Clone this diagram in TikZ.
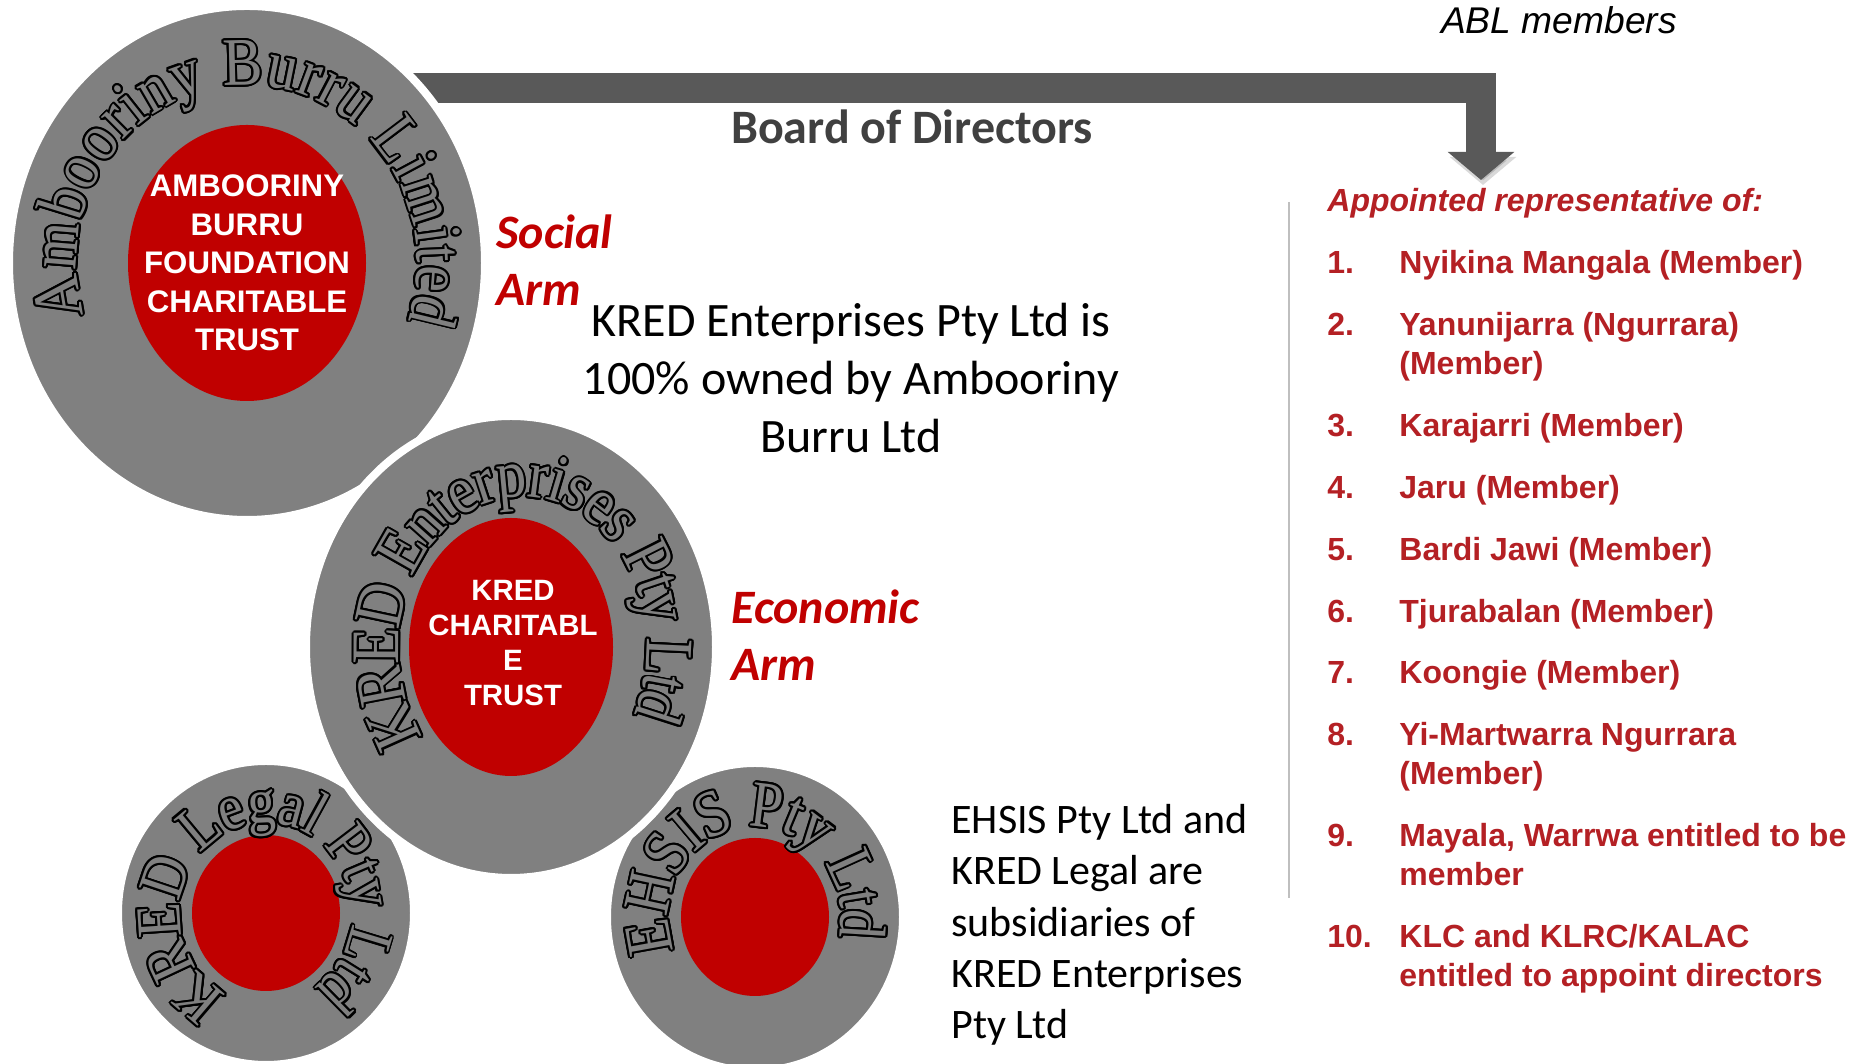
\documentclass[tikz,border=0pt]{standalone}
\usepackage{fontspec}
\setmainfont{Liberation Serif}
\newfontfamily\arialfont{Liberation Sans}
\newfontfamily\calfont{Carlito}
\newfontfamily\rimfont[FakeStretch=0.88]{Liberation Serif}
\usepackage{contour}
\usetikzlibrary{shapes.geometric,arrows.meta,positioning,decorations.text,backgrounds,calc}

\definecolor{ringgray}{HTML}{808080}
\definecolor{trustred}{HTML}{C00000}
\definecolor{listred}{RGB}{180,32,36}
\definecolor{bargray}{HTML}{595959}
\definecolor{boardgray}{HTML}{404040}
\contourlength{1pt}
\newcommand{\rimchar}[1]{\contour{black}{#1}}

\begin{document}
\begin{tikzpicture}[
    x=0.5pt, y=0.5pt,
    ring/.style={ellipse, fill=ringgray, draw=white, line width=4pt, inner sep=0pt},
    trust/.style={ellipse, fill=trustred, inner sep=0pt},
    trustname/.style={font=\arialfont\bfseries\fontsize{15.6}{19.2}\selectfont, text=white, align=center, inner sep=0pt},
    rim/.style 2 args={decorate, decoration={text effects along path, text={#1},
        text effects/.cd, text along path, fit text to path, character command=\rimchar,
        characters={text=ringgray, font=\rimfont\fontsize{#2}{#2}\selectfont}}},
    arm/.style={font=\calfont\bfseries\itshape\fontsize{24}{28.5}\selectfont, text=trustred, align=left, inner sep=0pt, anchor=west},
    note/.style={font=\calfont\fontsize{24}{28.8}\selectfont, inner sep=0pt},
    member/.style={font=\arialfont\bfseries\fontsize{16}{19.5}\selectfont, text=listred, align=left, inner sep=0pt, anchor=north west},
    boardbar/.style={draw=bargray, line width=15pt, -{Triangle[width=32.5pt, length=14pt]}},
    sepline/.style={draw=black!25, line width=0.7pt}
]
    \useasboundingbox (0,0) rectangle (1865,1064);
    \clip (0,0) rectangle (1865,1064);

    % companies
    \node[ring, minimum width=238pt, minimum height=257pt] (amb) at (247,801) {};
    \node[trust, minimum width=119pt, minimum height=138pt] (ambtrust) at (amb.center) {};
    \node[ring, minimum width=148pt, minimum height=152pt] (legal) at (266,151) {};
    \node[trust, minimum width=74pt, minimum height=78pt] (legaltrust) at (legal.center) {};
    \node[ring, minimum width=148pt, minimum height=154pt] (ehsis) at (755,147) {};
    \node[trust, minimum width=74pt, minimum height=79pt] (ehsistrust) at (ehsis.center) {};
    \node[ring, minimum width=205pt, minimum height=231pt] (kred) at (511,417) {};
    \node[trust, minimum width=102pt, minimum height=129pt] (kredtrust) at (kred.center) {};

    \node[trustname] (ambname) at (ambtrust) {AMBOORINY\\BURRU\\FOUNDATION\\CHARITABLE\\TRUST};
    \node[trustname, font=\arialfont\bfseries\fontsize{14.7}{17.4}\selectfont] (kredname) at ([xshift=1pt, yshift=2pt]kredtrust.center) {KRED\\CHARITABL\\E\\TRUST};

    % names round the rings
    \path[rim={Ambooriny Burru Limited}{34}] (amb.center) ++(197:85pt and 89pt)
        arc[start angle=197, end angle=-19, x radius=85pt, y radius=89pt];
    \path[rim={KRED Enterprises Pty Ltd}{34}] ([xshift=6pt]kred.center) ++(217:62pt and 75pt)
        arc[start angle=217, end angle=-27, x radius=62pt, y radius=75pt];
    \path[rim={KRED Legal Pty Ltd}{32}] (legal.center) ++(244:43pt and 45pt)
        arc[start angle=244, end angle=-56, x radius=43pt, y radius=45pt];
    \path[rim={EHSIS Pty Ltd}{33}] (ehsis.center) ++(202:43pt and 45pt)
        arc[start angle=202, end angle=-13, x radius=43pt, y radius=45pt];

    % board arrow
    \coordinate (bartip) at (1481,884);
    \begin{pgfonlayer}{background}
        \draw[boardbar, preaction={draw=black, opacity=0.15, transform canvas={xshift=1pt, yshift=-2.5pt}}]
            ([yshift=87.5pt]amb.center) -| (bartip);
    \end{pgfonlayer}
    \node[font=\calfont\bfseries\fontsize{24}{28}\selectfont, text=boardgray, inner sep=0pt] (board) at (912,937) {Board of Directors};

    % arms and notes
    \node[arm] (social) at (496,804) {Social\\Arm};
    \node[arm] (economic) at (731,429) {Economic\\Arm};
    \node[note, align=center] (ownnote) at (851,686) {KRED Enterprises Pty Ltd is\\100\% owned by Ambooriny\\Burru Ltd};
    \node[note, font=\calfont\fontsize{21}{25.6}\selectfont, align=left, anchor=west] (subsnote) at (951,139)
        {EHSIS Pty Ltd and\\KRED Legal are\\subsidiaries of\\KRED Enterprises\\Pty Ltd};

    % members list
    \node[font=\arialfont\itshape\fontsize{18.6}{22}\selectfont, inner sep=0pt] (ablmembers) at (1559,1044) {ABL members};
    \coordinate (septop) at (1289,862);
    \coordinate (sepbot) at (1289,166);
    \draw[sepline] (septop) -- (sepbot);

    \node[member, font=\arialfont\bfseries\itshape\fontsize{16}{19.5}\selectfont] (title) at (1327,880) {\strut Appointed representative of:};
    \node[member, below=11.05pt of title.south west, anchor=north west, xshift=36pt] (i1) {\strut Nyikina Mangala (Member)};
    \node[member, below=11.05pt of i1.south west, anchor=north west] (i2) {\strut Yanunijarra (Ngurrara)\\\strut (Member)};
    \node[member, below=11.05pt of i2.south west, anchor=north west] (i3) {\strut Karajarri (Member)};
    \node[member, below=11.05pt of i3.south west, anchor=north west] (i4) {\strut Jaru (Member)};
    \node[member, below=11.05pt of i4.south west, anchor=north west] (i5) {\strut Bardi Jawi (Member)};
    \node[member, below=11.05pt of i5.south west, anchor=north west] (i6) {\strut Tjurabalan (Member)};
    \node[member, below=11.05pt of i6.south west, anchor=north west] (i7) {\strut Koongie (Member)};
    \node[member, below=11.05pt of i7.south west, anchor=north west] (i8) {\strut Yi-Martwarra Ngurrara\\\strut (Member)};
    \node[member, below=11.05pt of i8.south west, anchor=north west] (i9) {\strut Mayala, Warrwa entitled to be\\\strut member};
    \node[member, below=11.05pt of i9.south west, anchor=north west] (i10) {\strut KLC and KLRC/KALAC\\\strut entitled to appoint directors};
    \foreach \k in {1,...,10}
        \node[member] (n\k) at ([xshift=-36pt]i\k.north west) {\strut\k.};
\end{tikzpicture}
\end{document}
